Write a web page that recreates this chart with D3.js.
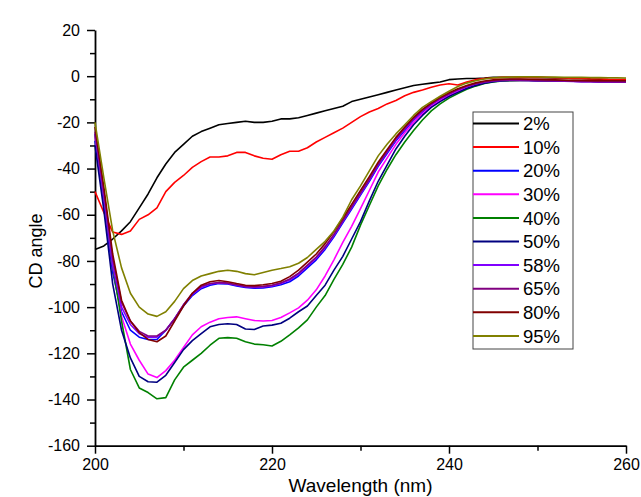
<!DOCTYPE html>
<html>
<head>
<meta charset="utf-8">
<script src="https://cdn.jsdelivr.net/npm/d3@7"></script>
<style>
  body { margin: 0; background: #fff; }
  svg { display: block; font-family: "Liberation Sans", Arial, sans-serif; }
</style>
</head>
<body>
<div id="chart"></div>
<script>
// wavelength (nm)
var wavelength = [200,201,202,203,204,205,206,207,208,209,
  210,211,212,213,214,215,216,217,218,219,
  220,221,222,223,224,225,226,227,228,229,
  230,231,232,233,234,235,236,237,238,239,
  240,241,242,243,244,245,246,247,248,249,
  250,251,252,253,254,255,256,257,258,259,260];

var seriesNames = ["2%", "10%", "20%", "30%", "40%", "50%", "58%", "65%", "80%", "95%"];
var seriesColors = ["#000000", "#ff0000", "#0000ff", "#ff00ff", "#008000", "#000080", "#8000ff", "#800080", "#800000", "#808000"];

var cd2 = [-75,-73.5,-70.5,-67,-63,-57,-51,-44,-38,-33,
  -29.5,-26,-24,-22.5,-21,-20.5,-20,-19.5,-20,-20,
  -19.5,-18.5,-18.5,-18,-17,-16,-15,-14,-13,-11,
  -10,-9,-8,-7,-6,-5,-4,-3.5,-3,-2.5,
  -1.5,-1.2,-1,-1,-0.8,-0.5,-0.5,-0.5,-0.5,-0.5,
  -0.5,-0.7,-0.8,-0.8,-1,-1,-1.2,-1.3,-1.5,-1.5,-1.5];
var cd10 = [-50,-59,-67.5,-68.5,-67,-62,-60,-57,-50,-46,
  -43,-39.5,-37,-35,-35,-34.5,-33,-33,-34.5,-35.5,
  -36,-34,-32.5,-32.5,-31,-28.5,-26.5,-24.5,-22.5,-20,
  -17.5,-15.5,-14,-12,-10.5,-8.5,-7,-6,-4.8,-3.8,
  -3.3,-3.8,-2.5,-1.5,-1,-0.8,-0.5,-0.5,-0.5,-0.5,
  -0.5,-0.5,-0.7,-0.8,-1,-1,-1.2,-1.2,-1.4,-1.5,-1.5];
var cd20 = [-28,-55,-85,-102,-110,-113,-114,-114,-110,-105,
  -99.5,-95,-92,-90.5,-89.8,-90,-90.8,-91.5,-91.8,-91.7,
  -91.2,-90.3,-89,-86.5,-83,-79.5,-75,-69.5,-63.5,-57.5,
  -51.5,-45.5,-39,-33.5,-28,-23.5,-19,-15.5,-12.5,-10,
  -8,-6.2,-4.7,-3.5,-2.7,-2.2,-1.9,-1.7,-1.7,-1.7,
  -1.8,-1.9,-2,-2,-2.1,-2.2,-2.2,-2.3,-2.3,-2.4,-2.4];
var cd30 = [-26,-53,-82,-104,-116,-123,-129,-130.5,-127.5,-123,
  -117.5,-112,-108.5,-106.5,-105,-104.5,-104.2,-105,-105.8,-106,
  -105.8,-104.5,-102.5,-100.3,-97,-92.5,-86.5,-79.5,-72,-65,
  -57.3,-49.5,-41.5,-35.5,-29.5,-24.5,-20,-16.3,-13,-10.5,
  -8.3,-6.5,-5,-3.8,-2.9,-2.3,-2,-1.8,-1.8,-1.8,
  -1.9,-2,-2.1,-2.2,-2.2,-2.3,-2.3,-2.4,-2.4,-2.4,-2.5];
var cd40 = [-25,-52,-82,-106,-127,-135,-137,-139.7,-139.2,-131.5,
  -126,-123,-120,-116.5,-113.5,-113.2,-113.5,-115,-116,-116.3,
  -116.8,-114.8,-112,-109,-105.5,-100,-95,-88,-81.5,-74,
  -64.5,-56,-47.5,-40.4,-34,-28.5,-23.5,-19,-15,-12,
  -9.5,-7.5,-5.7,-4.3,-3.2,-2.5,-2.1,-1.9,-1.8,-1.8,
  -1.9,-2,-2,-2.1,-2.1,-2.2,-2.2,-2.3,-2.3,-2.3,-2.4];
var cd50 = [-30,-58,-90,-110,-122,-130,-132.3,-132.5,-129.5,-124,
  -118.4,-114.5,-111.5,-108.5,-107.5,-107.2,-107.5,-109.5,-109.7,-108.2,
  -107.8,-107,-104.8,-102,-99.5,-95,-90.5,-84,-78,-70.5,
  -63,-54,-45.5,-38.5,-31.5,-26,-21,-17,-13.5,-11,
  -8.8,-7,-5.3,-4,-3,-2.4,-2,-1.8,-1.8,-1.8,
  -1.9,-2,-2.1,-2.2,-2.2,-2.3,-2.3,-2.4,-2.4,-2.4,-2.5];
var cd58 = [-25,-52,-82,-100,-107.5,-111.5,-113,-113,-110,-105,
  -99,-94.5,-91.5,-90,-89.5,-89.8,-90.5,-91.2,-91.5,-91.3,
  -90.8,-89.8,-88.3,-85.8,-82.3,-78.8,-74.3,-69,-63,-57,
  -51,-45,-38.5,-33,-27.5,-23,-18.7,-15.2,-12.2,-9.8,
  -7.8,-6,-4.6,-3.4,-2.6,-2.1,-1.8,-1.7,-1.7,-1.8,
  -1.9,-2,-2.1,-2.2,-2.3,-2.4,-2.4,-2.5,-2.5,-2.6,-2.6];
var cd65 = [-24,-50,-79,-98,-106,-110.5,-112.5,-112.5,-110,-105,
  -99,-94,-91,-89.8,-89.3,-89.6,-90.3,-91,-91.2,-91,
  -90.5,-89.5,-87.8,-85.3,-81.8,-78.3,-73.8,-68.5,-62.5,-56.5,
  -50.5,-44.5,-38,-32.5,-27,-22.5,-18.3,-14.8,-12,-9.6,
  -7.6,-5.8,-4.4,-3.3,-2.5,-2,-1.7,-1.6,-1.6,-1.7,
  -1.8,-1.9,-2,-2.1,-2.2,-2.3,-2.3,-2.4,-2.4,-2.5,-2.5];
var cd80 = [-22,-48,-77,-97,-106,-111,-114,-115,-112.5,-106,
  -99.5,-94,-90.5,-89,-88.5,-89,-89.8,-90.5,-90.7,-90.3,
  -89.8,-88.8,-86.8,-84,-80.5,-77,-72.5,-67.3,-61.5,-55.5,
  -49.5,-43.5,-37.2,-31.8,-26.5,-22,-17.8,-14.4,-11.6,-9.2,
  -7.2,-5.4,-4,-2.9,-2.1,-1.6,-1.3,-1.2,-1.2,-1.3,
  -1.4,-1.5,-1.6,-1.7,-1.8,-1.8,-1.9,-1.9,-2,-2,-2];
var cd95 = [-20,-44,-67,-83,-94,-100,-103,-104,-102,-97.5,
  -92,-88.5,-86.5,-85.5,-84.5,-84,-84.5,-85.5,-86,-85,
  -84,-83.3,-82.5,-81,-78.5,-75,-71.5,-67,-61,-53.5,
  -47.5,-41,-34.5,-29.5,-25,-21,-17,-13.5,-11,-8.7,
  -6.5,-4.5,-3,-2,-1.2,-0.7,-0.5,-0.4,-0.3,-0.3,
  -0.3,-0.4,-0.4,-0.5,-0.5,-0.5,-0.6,-0.6,-0.7,-0.7,-0.8];

var seriesValues = [cd2, cd10, cd20, cd30, cd40, cd50, cd58, cd65, cd80, cd95];

var xMajor = [200, 220, 240, 260];
var xMinor = [210, 230, 250];
var yMajor = [20, 0, -20, -40, -60, -80, -100, -120, -140, -160];
var yMinor = [10, -10, -30, -50, -70, -90, -110, -130, -150];

var margin = { top: 30, right: 15, bottom: 51.3, left: 95 };
var width = 641 - margin.left - margin.right;
var height = 497 - margin.top - margin.bottom;

var svg = d3.select("#chart").append("svg")
  .attr("width", 641)
  .attr("height", 497);

var chart = svg.append("g")
  .attr("transform", "translate(" + margin.left + "," + margin.top + ")");

var xScale = d3.scaleLinear().domain([200, 260]).range([0, width]);
var yScale = d3.scaleLinear().domain([-160, 20]).range([height, 0]);

function styleAxis(g) {
  g.select(".domain").attr("stroke", "#000").attr("stroke-width", 1.8);
  g.selectAll(".tick line").attr("stroke", "#000").attr("stroke-width", 1.5);
  g.selectAll(".tick text").attr("fill", "#000").style("font-size", "16px");
}

// minor ticks
chart.append("g")
  .attr("transform", "translate(0," + height + ")")
  .call(d3.axisBottom(xScale).tickValues(xMinor).tickSize(5).tickFormat(""))
  .call(function (g) { g.select(".domain").remove(); g.selectAll("line").attr("stroke-width", 1.5); });
chart.append("g")
  .call(d3.axisLeft(yScale).tickValues(yMinor).tickSize(5).tickFormat(""))
  .call(function (g) { g.select(".domain").remove(); g.selectAll("line").attr("stroke-width", 1.5); });

// major axes
chart.append("g")
  .attr("class", "axis axis-x")
  .attr("transform", "translate(0," + height + ")")
  .call(d3.axisBottom(xScale).tickValues(xMajor).tickSize(8).tickSizeOuter(0).tickPadding(5)
    .tickFormat(function (d) { return String(d); }))
  .call(styleAxis);

chart.append("g")
  .attr("class", "axis axis-y")
  .call(d3.axisLeft(yScale).tickValues(yMajor).tickSize(8).tickSizeOuter(0).tickPadding(7)
    .tickFormat(function (d) { return String(d); }))
  .call(styleAxis);

// axis titles
svg.append("text")
  .attr("x", margin.left + width / 2)
  .attr("y", 492)
  .attr("text-anchor", "middle")
  .style("font-size", "19px")
  .text("Wavelength (nm)");

svg.append("text")
  .attr("transform", "translate(42," + 251 + ") rotate(-90)")
  .attr("text-anchor", "middle")
  .style("font-size", "18px")
  .text("CD angle");

// curves
var line = d3.line()
  .x(function (d, i) { return xScale(wavelength[i]); })
  .y(function (d) { return yScale(d); });

seriesValues.forEach(function (vals, k) {
  chart.append("path")
    .datum(vals)
    .attr("fill", "none")
    .attr("stroke", seriesColors[k])
    .attr("stroke-width", 1.6)
    .attr("stroke-linejoin", "round")
    .attr("d", line);
});

// legend
var legend = svg.append("g").attr("transform", "translate(473,112)");
legend.append("rect")
  .attr("width", 100)
  .attr("height", 237)
  .attr("fill", "#fff")
  .attr("stroke", "#444")
  .attr("stroke-width", 1);

var items = legend.selectAll(".item")
  .data(seriesNames)
  .enter().append("g")
  .attr("class", "item")
  .attr("transform", function (d, i) { return "translate(0," + (11.5 + i * 23.6) + ")"; });
items.append("line")
  .attr("x1", 0).attr("x2", 46)
  .attr("stroke", function (d, i) { return seriesColors[i]; })
  .attr("stroke-width", 2);
items.append("text")
  .attr("x", 50)
  .attr("dy", "0.36em")
  .style("font-size", "18.5px")
  .text(function (d) { return d; });
</script>
</body>
</html>
